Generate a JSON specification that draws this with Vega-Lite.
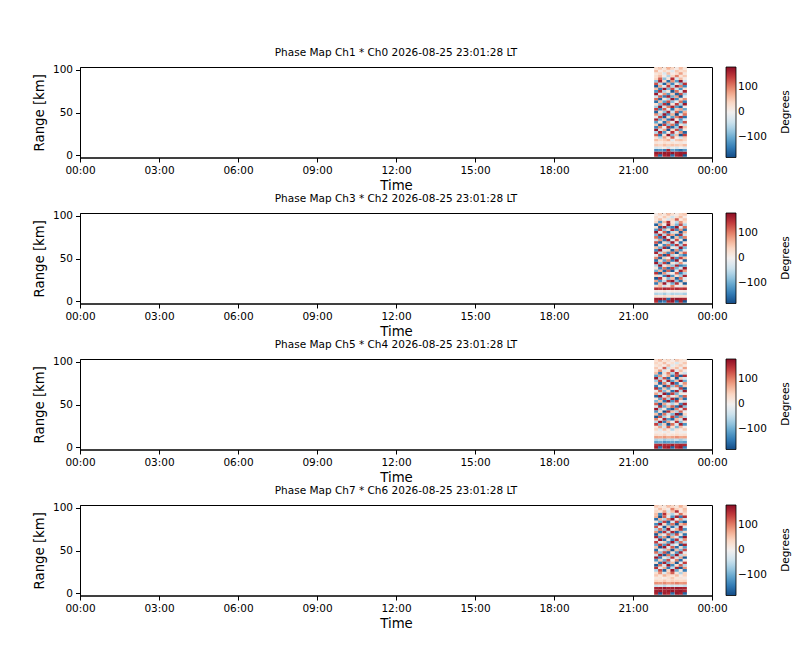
{
  "$schema": "https://vega.github.io/schema/vega-lite/v6.json",
  "padding": {"left": 31, "top": 47, "right": 0, "bottom": 0},
  "background": "white",
  "datasets": {
    "p1": [
      {"t":1313,"r":0,"v":150},{"t":1322,"r":0,"v":-160},{"t":1332,"r":0,"v":160},{"t":1341,"r":0,"v":170},{"t":1350,"r":0,"v":-150},{"t":1360,"r":0,"v":160},{"t":1369,"r":0,"v":170},{"t":1378,"r":0,"v":-170},
      {"t":1313,"r":3,"v":170},{"t":1322,"r":3,"v":165},{"t":1332,"r":3,"v":172},{"t":1341,"r":3,"v":168},{"t":1350,"r":3,"v":175},{"t":1360,"r":3,"v":160},{"t":1369,"r":3,"v":170},{"t":1378,"r":3,"v":168},
      {"t":1313,"r":6,"v":-130},{"t":1322,"r":6,"v":-120},{"t":1332,"r":6,"v":-140},{"t":1341,"r":6,"v":160},{"t":1350,"r":6,"v":-110},{"t":1360,"r":6,"v":-130},{"t":1369,"r":6,"v":-150},{"t":1378,"r":6,"v":-120},
      {"t":1313,"r":9,"v":-30},{"t":1322,"r":9,"v":-20},{"t":1332,"r":9,"v":10},{"t":1341,"r":9,"v":-40},{"t":1350,"r":9,"v":-10},{"t":1360,"r":9,"v":-30},{"t":1369,"r":9,"v":0},{"t":1378,"r":9,"v":-20},
      {"t":1313,"r":12,"v":50},{"t":1322,"r":12,"v":40},{"t":1332,"r":12,"v":60},{"t":1341,"r":12,"v":45},{"t":1350,"r":12,"v":55},{"t":1360,"r":12,"v":50},{"t":1369,"r":12,"v":40},{"t":1378,"r":12,"v":60},
      {"t":1313,"r":15,"v":20},{"t":1322,"r":15,"v":10},{"t":1332,"r":15,"v":30},{"t":1341,"r":15,"v":15},{"t":1350,"r":15,"v":25},{"t":1360,"r":15,"v":10},{"t":1369,"r":15,"v":20},{"t":1378,"r":15,"v":5},
      {"t":1313,"r":18,"v":60},{"t":1322,"r":18,"v":40},{"t":1332,"r":18,"v":50},{"t":1341,"r":18,"v":70},{"t":1350,"r":18,"v":-20},{"t":1360,"r":18,"v":50},{"t":1369,"r":18,"v":60},{"t":1378,"r":18,"v":40},
      {"t":1313,"r":21,"v":30},{"t":1322,"r":21,"v":-60},{"t":1332,"r":21,"v":80},{"t":1341,"r":21,"v":20},{"t":1350,"r":21,"v":120},{"t":1360,"r":21,"v":10},{"t":1369,"r":21,"v":-40},{"t":1378,"r":21,"v":50},
      {"t":1313,"r":24,"v":120},{"t":1322,"r":24,"v":-150},{"t":1332,"r":24,"v":30},{"t":1341,"r":24,"v":170},{"t":1350,"r":24,"v":-90},{"t":1360,"r":24,"v":60},{"t":1369,"r":24,"v":-170},{"t":1378,"r":24,"v":140},
      {"t":1313,"r":27,"v":-60},{"t":1322,"r":27,"v":160},{"t":1332,"r":27,"v":-120},{"t":1341,"r":27,"v":10},{"t":1350,"r":27,"v":150},{"t":1360,"r":27,"v":-30},{"t":1369,"r":27,"v":90},{"t":1378,"r":27,"v":-160},
      {"t":1313,"r":30,"v":170},{"t":1322,"r":30,"v":-40},{"t":1332,"r":30,"v":80},{"t":1341,"r":30,"v":-170},{"t":1350,"r":30,"v":40},{"t":1360,"r":30,"v":130},{"t":1369,"r":30,"v":-110},{"t":1378,"r":30,"v":20},
      {"t":1313,"r":33,"v":-130},{"t":1322,"r":33,"v":100},{"t":1332,"r":33,"v":-10},{"t":1341,"r":33,"v":150},{"t":1350,"r":33,"v":-160},{"t":1360,"r":33,"v":-70},{"t":1369,"r":33,"v":170},{"t":1378,"r":33,"v":60},
      {"t":1313,"r":36,"v":50},{"t":1322,"r":36,"v":-170},{"t":1332,"r":36,"v":140},{"t":1341,"r":36,"v":-80},{"t":1350,"r":36,"v":110},{"t":1360,"r":36,"v":-140},{"t":1369,"r":36,"v":30},{"t":1378,"r":36,"v":-50},
      {"t":1313,"r":39,"v":-110},{"t":1322,"r":39,"v":20},{"t":1332,"r":39,"v":-150},{"t":1341,"r":39,"v":90},{"t":1350,"r":39,"v":-20},{"t":1360,"r":39,"v":170},{"t":1369,"r":39,"v":-90},{"t":1378,"r":39,"v":130},
      {"t":1313,"r":42,"v":160},{"t":1322,"r":42,"v":-100},{"t":1332,"r":42,"v":60},{"t":1341,"r":42,"v":-140},{"t":1350,"r":42,"v":180},{"t":1360,"r":42,"v":10},{"t":1369,"r":42,"v":-120},{"t":1378,"r":42,"v":-30},
      {"t":1313,"r":45,"v":-20},{"t":1322,"r":45,"v":140},{"t":1332,"r":45,"v":-170},{"t":1341,"r":45,"v":40},{"t":1350,"r":45,"v":-110},{"t":1360,"r":45,"v":100},{"t":1369,"r":45,"v":150},{"t":1378,"r":45,"v":-150},
      {"t":1313,"r":48,"v":90},{"t":1322,"r":48,"v":-60},{"t":1332,"r":48,"v":170},{"t":1341,"r":48,"v":-120},{"t":1350,"r":48,"v":70},{"t":1360,"r":48,"v":-180},{"t":1369,"r":48,"v":-20},{"t":1378,"r":48,"v":110},
      {"t":1313,"r":51,"v":-160},{"t":1322,"r":51,"v":30},{"t":1332,"r":51,"v":-80},{"t":1341,"r":51,"v":160},{"t":1350,"r":51,"v":-40},{"t":1360,"r":51,"v":120},{"t":1369,"r":51,"v":-130},{"t":1378,"r":51,"v":70},
      {"t":1313,"r":54,"v":140},{"t":1322,"r":54,"v":-130},{"t":1332,"r":54,"v":120},{"t":1341,"r":54,"v":-20},{"t":1350,"r":54,"v":-150},{"t":1360,"r":54,"v":50},{"t":1369,"r":54,"v":80},{"t":1378,"r":54,"v":-100},
      {"t":1313,"r":57,"v":-70},{"t":1322,"r":57,"v":170},{"t":1332,"r":57,"v":-40},{"t":1341,"r":57,"v":100},{"t":1350,"r":57,"v":160},{"t":1360,"r":57,"v":-110},{"t":1369,"r":57,"v":-160},{"t":1378,"r":57,"v":10},
      {"t":1313,"r":60,"v":30},{"t":1322,"r":60,"v":-90},{"t":1332,"r":60,"v":150},{"t":1341,"r":60,"v":-170},{"t":1350,"r":60,"v":20},{"t":1360,"r":60,"v":140},{"t":1369,"r":60,"v":-60},{"t":1378,"r":60,"v":170},
      {"t":1313,"r":63,"v":-150},{"t":1322,"r":63,"v":60},{"t":1332,"r":63,"v":-110},{"t":1341,"r":63,"v":130},{"t":1350,"r":63,"v":-80},{"t":1360,"r":63,"v":-10},{"t":1369,"r":63,"v":110},{"t":1378,"r":63,"v":-140},
      {"t":1313,"r":66,"v":110},{"t":1322,"r":66,"v":-160},{"t":1332,"r":66,"v":20},{"t":1341,"r":66,"v":-60},{"t":1350,"r":66,"v":170},{"t":1360,"r":66,"v":-130},{"t":1369,"r":66,"v":40},{"t":1378,"r":66,"v":90},
      {"t":1313,"r":69,"v":-40},{"t":1322,"r":69,"v":120},{"t":1332,"r":69,"v":-140},{"t":1341,"r":69,"v":160},{"t":1350,"r":69,"v":-100},{"t":1360,"r":69,"v":80},{"t":1369,"r":69,"v":-170},{"t":1378,"r":69,"v":-20},
      {"t":1313,"r":72,"v":170},{"t":1322,"r":72,"v":-20},{"t":1332,"r":72,"v":90},{"t":1341,"r":72,"v":-110},{"t":1350,"r":72,"v":50},{"t":1360,"r":72,"v":-160},{"t":1369,"r":72,"v":130},{"t":1378,"r":72,"v":-70},
      {"t":1313,"r":75,"v":-120},{"t":1322,"r":75,"v":150},{"t":1332,"r":75,"v":-60},{"t":1341,"r":75,"v":20},{"t":1350,"r":75,"v":-170},{"t":1360,"r":75,"v":110},{"t":1369,"r":75,"v":-30},{"t":1378,"r":75,"v":160},
      {"t":1313,"r":78,"v":60},{"t":1322,"r":78,"v":-140},{"t":1332,"r":78,"v":170},{"t":1341,"r":78,"v":-90},{"t":1350,"r":78,"v":130},{"t":1360,"r":78,"v":-40},{"t":1369,"r":78,"v":-120},{"t":1378,"r":78,"v":30},
      {"t":1313,"r":81,"v":-170},{"t":1322,"r":81,"v":80},{"t":1332,"r":81,"v":-20},{"t":1341,"r":81,"v":140},{"t":1350,"r":81,"v":-60},{"t":1360,"r":81,"v":160},{"t":1369,"r":81,"v":100},{"t":1378,"r":81,"v":-130},
      {"t":1313,"r":84,"v":130},{"t":1322,"r":84,"v":-50},{"t":1332,"r":84,"v":-160},{"t":1341,"r":84,"v":70},{"t":1350,"r":84,"v":-130},{"t":1360,"r":84,"v":20},{"t":1369,"r":84,"v":-80},{"t":1378,"r":84,"v":150},
      {"t":1313,"r":87,"v":-80},{"t":1322,"r":87,"v":160},{"t":1332,"r":87,"v":40},{"t":1341,"r":87,"v":-150},{"t":1350,"r":87,"v":90},{"t":1360,"r":87,"v":-110},{"t":1369,"r":87,"v":170},{"t":1378,"r":87,"v":-40},
      {"t":1313,"r":90,"v":40},{"t":1322,"r":90,"v":120},{"t":1332,"r":90,"v":-80},{"t":1341,"r":90,"v":20},{"t":1350,"r":90,"v":150},{"t":1360,"r":90,"v":-30},{"t":1369,"r":90,"v":60},{"t":1378,"r":90,"v":10},
      {"t":1313,"r":93,"v":30},{"t":1322,"r":93,"v":60},{"t":1332,"r":93,"v":10},{"t":1341,"r":93,"v":-60},{"t":1350,"r":93,"v":40},{"t":1360,"r":93,"v":100},{"t":1369,"r":93,"v":20},{"t":1378,"r":93,"v":50},
      {"t":1313,"r":96,"v":20},{"t":1322,"r":96,"v":40},{"t":1332,"r":96,"v":-30},{"t":1341,"r":96,"v":60},{"t":1350,"r":96,"v":10},{"t":1360,"r":96,"v":30},{"t":1369,"r":96,"v":80},{"t":1378,"r":96,"v":15},
      {"t":1313,"r":99,"v":60},{"t":1322,"r":99,"v":10},{"t":1332,"r":99,"v":40},{"t":1341,"r":99,"v":20},{"t":1350,"r":99,"v":-20},{"t":1360,"r":99,"v":50},{"t":1369,"r":99,"v":30},{"t":1378,"r":99,"v":40},
      {"t":1313,"r":102,"v":30},{"t":1322,"r":102,"v":50},{"t":1332,"r":102,"v":20},{"t":1341,"r":102,"v":70},{"t":1350,"r":102,"v":40},{"t":1360,"r":102,"v":10},{"t":1369,"r":102,"v":60},{"t":1378,"r":102,"v":20}
    ],
    "p2": [
      {"t":1313,"r":0,"v":150},{"t":1322,"r":0,"v":-160},{"t":1332,"r":0,"v":-140},{"t":1341,"r":0,"v":160},{"t":1350,"r":0,"v":170},{"t":1360,"r":0,"v":-150},{"t":1369,"r":0,"v":160},{"t":1378,"r":0,"v":-170},
      {"t":1313,"r":3,"v":165},{"t":1322,"r":3,"v":170},{"t":1332,"r":3,"v":160},{"t":1341,"r":3,"v":-150},{"t":1350,"r":3,"v":168},{"t":1360,"r":3,"v":172},{"t":1369,"r":3,"v":165},{"t":1378,"r":3,"v":160},
      {"t":1313,"r":6,"v":30},{"t":1322,"r":6,"v":20},{"t":1332,"r":6,"v":40},{"t":1341,"r":6,"v":25},{"t":1350,"r":6,"v":35},{"t":1360,"r":6,"v":20},{"t":1369,"r":6,"v":30},{"t":1378,"r":6,"v":25},
      {"t":1313,"r":9,"v":-60},{"t":1322,"r":9,"v":-50},{"t":1332,"r":9,"v":-70},{"t":1341,"r":9,"v":-40},{"t":1350,"r":9,"v":-60},{"t":1360,"r":9,"v":-55},{"t":1369,"r":9,"v":-50},{"t":1378,"r":9,"v":-65},
      {"t":1313,"r":12,"v":10},{"t":1322,"r":12,"v":5},{"t":1332,"r":12,"v":20},{"t":1341,"r":12,"v":0},{"t":1350,"r":12,"v":15},{"t":1360,"r":12,"v":10},{"t":1369,"r":12,"v":5},{"t":1378,"r":12,"v":10},
      {"t":1313,"r":15,"v":150},{"t":1322,"r":15,"v":140},{"t":1332,"r":15,"v":160},{"t":1341,"r":15,"v":150},{"t":1350,"r":15,"v":145},{"t":1360,"r":15,"v":155},{"t":1369,"r":15,"v":140},{"t":1378,"r":15,"v":150},
      {"t":1313,"r":18,"v":30},{"t":1322,"r":18,"v":60},{"t":1332,"r":18,"v":-40},{"t":1341,"r":18,"v":20},{"t":1350,"r":18,"v":100},{"t":1360,"r":18,"v":10},{"t":1369,"r":18,"v":-20},{"t":1378,"r":18,"v":40},
      {"t":1313,"r":21,"v":-140},{"t":1322,"r":21,"v":60},{"t":1332,"r":21,"v":170},{"t":1341,"r":21,"v":-30},{"t":1350,"r":21,"v":-100},{"t":1360,"r":21,"v":150},{"t":1369,"r":21,"v":20},{"t":1378,"r":21,"v":-170},
      {"t":1313,"r":24,"v":80},{"t":1322,"r":24,"v":-120},{"t":1332,"r":24,"v":-50},{"t":1341,"r":24,"v":140},{"t":1350,"r":24,"v":170},{"t":1360,"r":24,"v":-80},{"t":1369,"r":24,"v":-150},{"t":1378,"r":24,"v":40},
      {"t":1313,"r":27,"v":-170},{"t":1322,"r":27,"v":150},{"t":1332,"r":27,"v":20},{"t":1341,"r":27,"v":-90},{"t":1350,"r":27,"v":60},{"t":1360,"r":27,"v":-160},{"t":1369,"r":27,"v":110},{"t":1378,"r":27,"v":-20},
      {"t":1313,"r":30,"v":40},{"t":1322,"r":30,"v":-30},{"t":1332,"r":30,"v":-140},{"t":1341,"r":30,"v":170},{"t":1350,"r":30,"v":-120},{"t":1360,"r":30,"v":30},{"t":1369,"r":30,"v":-70},{"t":1378,"r":30,"v":160},
      {"t":1313,"r":33,"v":150},{"t":1322,"r":33,"v":-170},{"t":1332,"r":33,"v":90},{"t":1341,"r":33,"v":-40},{"t":1350,"r":33,"v":10},{"t":1360,"r":33,"v":120},{"t":1369,"r":33,"v":-130},{"t":1378,"r":33,"v":-60},
      {"t":1313,"r":36,"v":-100},{"t":1322,"r":36,"v":70},{"t":1332,"r":36,"v":-160},{"t":1341,"r":36,"v":120},{"t":1350,"r":36,"v":-170},{"t":1360,"r":36,"v":-20},{"t":1369,"r":36,"v":160},{"t":1378,"r":36,"v":80},
      {"t":1313,"r":39,"v":20},{"t":1322,"r":39,"v":-130},{"t":1332,"r":39,"v":110},{"t":1341,"r":39,"v":-150},{"t":1350,"r":39,"v":140},{"t":1360,"r":39,"v":-90},{"t":1369,"r":39,"v":-30},{"t":1378,"r":39,"v":170},
      {"t":1313,"r":42,"v":-60},{"t":1322,"r":42,"v":170},{"t":1332,"r":42,"v":-20},{"t":1341,"r":42,"v":60},{"t":1350,"r":42,"v":-80},{"t":1360,"r":42,"v":160},{"t":1369,"r":42,"v":-140},{"t":1378,"r":42,"v":-110},
      {"t":1313,"r":45,"v":170},{"t":1322,"r":45,"v":-80},{"t":1332,"r":45,"v":140},{"t":1341,"r":45,"v":-170},{"t":1350,"r":45,"v":30},{"t":1360,"r":45,"v":-50},{"t":1369,"r":45,"v":90},{"t":1378,"r":45,"v":10},
      {"t":1313,"r":48,"v":-150},{"t":1322,"r":48,"v":40},{"t":1332,"r":48,"v":-110},{"t":1341,"r":48,"v":100},{"t":1350,"r":48,"v":-140},{"t":1360,"r":48,"v":170},{"t":1369,"r":48,"v":-10},{"t":1378,"r":48,"v":-160},
      {"t":1313,"r":51,"v":100},{"t":1322,"r":51,"v":-160},{"t":1332,"r":51,"v":50},{"t":1341,"r":51,"v":-10},{"t":1350,"r":51,"v":160},{"t":1360,"r":51,"v":-120},{"t":1369,"r":51,"v":140},{"t":1378,"r":51,"v":60},
      {"t":1313,"r":54,"v":-20},{"t":1322,"r":54,"v":130},{"t":1332,"r":54,"v":-170},{"t":1341,"r":54,"v":150},{"t":1350,"r":54,"v":-60},{"t":1360,"r":54,"v":20},{"t":1369,"r":54,"v":-90},{"t":1378,"r":54,"v":-140},
      {"t":1313,"r":57,"v":160},{"t":1322,"r":57,"v":-50},{"t":1332,"r":57,"v":80},{"t":1341,"r":57,"v":-130},{"t":1350,"r":57,"v":110},{"t":1360,"r":57,"v":-170},{"t":1369,"r":57,"v":50},{"t":1378,"r":57,"v":120},
      {"t":1313,"r":60,"v":-130},{"t":1322,"r":60,"v":170},{"t":1332,"r":60,"v":-30},{"t":1341,"r":60,"v":40},{"t":1350,"r":60,"v":-160},{"t":1360,"r":60,"v":90},{"t":1369,"r":60,"v":-120},{"t":1378,"r":60,"v":-20},
      {"t":1313,"r":63,"v":60},{"t":1322,"r":63,"v":-100},{"t":1332,"r":63,"v":160},{"t":1341,"r":63,"v":-170},{"t":1350,"r":63,"v":20},{"t":1360,"r":63,"v":-40},{"t":1369,"r":63,"v":170},{"t":1378,"r":63,"v":-90},
      {"t":1313,"r":66,"v":-170},{"t":1322,"r":66,"v":20},{"t":1332,"r":66,"v":-130},{"t":1341,"r":66,"v":110},{"t":1350,"r":66,"v":-110},{"t":1360,"r":66,"v":150},{"t":1369,"r":66,"v":-60},{"t":1378,"r":66,"v":140},
      {"t":1313,"r":69,"v":130},{"t":1322,"r":69,"v":-160},{"t":1332,"r":69,"v":40},{"t":1341,"r":69,"v":-70},{"t":1350,"r":69,"v":170},{"t":1360,"r":69,"v":-10},{"t":1369,"r":69,"v":-150},{"t":1378,"r":69,"v":30},
      {"t":1313,"r":72,"v":-40},{"t":1322,"r":72,"v":90},{"t":1332,"r":72,"v":-150},{"t":1341,"r":72,"v":160},{"t":1350,"r":72,"v":-30},{"t":1360,"r":72,"v":130},{"t":1369,"r":72,"v":20},{"t":1378,"r":72,"v":-170},
      {"t":1313,"r":75,"v":110},{"t":1322,"r":75,"v":-140},{"t":1332,"r":75,"v":170},{"t":1341,"r":75,"v":-20},{"t":1350,"r":75,"v":-170},{"t":1360,"r":75,"v":60},{"t":1369,"r":75,"v":-110},{"t":1378,"r":75,"v":100},
      {"t":1313,"r":78,"v":-90},{"t":1322,"r":78,"v":160},{"t":1332,"r":78,"v":-60},{"t":1341,"r":78,"v":130},{"t":1350,"r":78,"v":80},{"t":1360,"r":78,"v":-150},{"t":1369,"r":78,"v":150},{"t":1378,"r":78,"v":-40},
      {"t":1313,"r":81,"v":170},{"t":1322,"r":81,"v":-20},{"t":1332,"r":81,"v":120},{"t":1341,"r":81,"v":-160},{"t":1350,"r":81,"v":-50},{"t":1360,"r":81,"v":40},{"t":1369,"r":81,"v":-170},{"t":1378,"r":81,"v":70},
      {"t":1313,"r":84,"v":-120},{"t":1322,"r":84,"v":140},{"t":1332,"r":84,"v":-80},{"t":1341,"r":84,"v":30},{"t":1350,"r":84,"v":150},{"t":1360,"r":84,"v":-130},{"t":1369,"r":84,"v":90},{"t":1378,"r":84,"v":-150},
      {"t":1313,"r":87,"v":30},{"t":1322,"r":87,"v":-170},{"t":1332,"r":87,"v":160},{"t":1341,"r":87,"v":-100},{"t":1350,"r":87,"v":-140},{"t":1360,"r":87,"v":170},{"t":1369,"r":87,"v":-30},{"t":1378,"r":87,"v":110},
      {"t":1313,"r":90,"v":-160},{"t":1322,"r":90,"v":80},{"t":1332,"r":90,"v":-10},{"t":1341,"r":90,"v":170},{"t":1350,"r":90,"v":40},{"t":1360,"r":90,"v":-90},{"t":1369,"r":90,"v":130},{"t":1378,"r":90,"v":-60},
      {"t":1313,"r":93,"v":40},{"t":1322,"r":93,"v":-120},{"t":1332,"r":93,"v":60},{"t":1341,"r":93,"v":150},{"t":1350,"r":93,"v":20},{"t":1360,"r":93,"v":-50},{"t":1369,"r":93,"v":90},{"t":1378,"r":93,"v":30},
      {"t":1313,"r":96,"v":20},{"t":1322,"r":96,"v":60},{"t":1332,"r":96,"v":10},{"t":1341,"r":96,"v":-30},{"t":1350,"r":96,"v":40},{"t":1360,"r":96,"v":120},{"t":1369,"r":96,"v":15},{"t":1378,"r":96,"v":50},
      {"t":1313,"r":99,"v":30},{"t":1322,"r":99,"v":10},{"t":1332,"r":99,"v":50},{"t":1341,"r":99,"v":20},{"t":1350,"r":99,"v":-40},{"t":1360,"r":99,"v":30},{"t":1369,"r":99,"v":60},{"t":1378,"r":99,"v":10},
      {"t":1313,"r":102,"v":10},{"t":1322,"r":102,"v":40},{"t":1332,"r":102,"v":20},{"t":1341,"r":102,"v":60},{"t":1350,"r":102,"v":30},{"t":1360,"r":102,"v":10},{"t":1369,"r":102,"v":40},{"t":1378,"r":102,"v":50}
    ],
    "p3": [
      {"t":1313,"r":0,"v":165},{"t":1322,"r":0,"v":-150},{"t":1332,"r":0,"v":160},{"t":1341,"r":0,"v":170},{"t":1350,"r":0,"v":-160},{"t":1360,"r":0,"v":155},{"t":1369,"r":0,"v":170},{"t":1378,"r":0,"v":-140},
      {"t":1313,"r":3,"v":150},{"t":1322,"r":3,"v":160},{"t":1332,"r":3,"v":155},{"t":1341,"r":3,"v":150},{"t":1350,"r":3,"v":165},{"t":1360,"r":3,"v":150},{"t":1369,"r":3,"v":160},{"t":1378,"r":3,"v":155},
      {"t":1313,"r":6,"v":-110},{"t":1322,"r":6,"v":-100},{"t":1332,"r":6,"v":-120},{"t":1341,"r":6,"v":-110},{"t":1350,"r":6,"v":-105},{"t":1360,"r":6,"v":-115},{"t":1369,"r":6,"v":-100},{"t":1378,"r":6,"v":-110},
      {"t":1313,"r":9,"v":-60},{"t":1322,"r":9,"v":-50},{"t":1332,"r":9,"v":-70},{"t":1341,"r":9,"v":-55},{"t":1350,"r":9,"v":-60},{"t":1360,"r":9,"v":-45},{"t":1369,"r":9,"v":-65},{"t":1378,"r":9,"v":-50},
      {"t":1313,"r":12,"v":80},{"t":1322,"r":12,"v":75},{"t":1332,"r":12,"v":85},{"t":1341,"r":12,"v":70},{"t":1350,"r":12,"v":80},{"t":1360,"r":12,"v":90},{"t":1369,"r":12,"v":75},{"t":1378,"r":12,"v":80},
      {"t":1313,"r":15,"v":30},{"t":1322,"r":15,"v":20},{"t":1332,"r":15,"v":40},{"t":1341,"r":15,"v":10},{"t":1350,"r":15,"v":25},{"t":1360,"r":15,"v":35},{"t":1369,"r":15,"v":20},{"t":1378,"r":15,"v":30},
      {"t":1313,"r":18,"v":5},{"t":1322,"r":18,"v":10},{"t":1332,"r":18,"v":-10},{"t":1341,"r":18,"v":20},{"t":1350,"r":18,"v":0},{"t":1360,"r":18,"v":15},{"t":1369,"r":18,"v":5},{"t":1378,"r":18,"v":-5},
      {"t":1313,"r":21,"v":40},{"t":1322,"r":21,"v":-30},{"t":1332,"r":21,"v":60},{"t":1341,"r":21,"v":20},{"t":1350,"r":21,"v":-60},{"t":1360,"r":21,"v":30},{"t":1369,"r":21,"v":10},{"t":1378,"r":21,"v":50},
      {"t":1313,"r":24,"v":20},{"t":1322,"r":24,"v":80},{"t":1332,"r":24,"v":-40},{"t":1341,"r":24,"v":120},{"t":1350,"r":24,"v":30},{"t":1360,"r":24,"v":-90},{"t":1369,"r":24,"v":60},{"t":1378,"r":24,"v":10},
      {"t":1313,"r":27,"v":140},{"t":1322,"r":27,"v":-90},{"t":1332,"r":27,"v":50},{"t":1341,"r":27,"v":-170},{"t":1350,"r":27,"v":110},{"t":1360,"r":27,"v":-30},{"t":1369,"r":27,"v":160},{"t":1378,"r":27,"v":-120},
      {"t":1313,"r":30,"v":-50},{"t":1322,"r":30,"v":170},{"t":1332,"r":30,"v":-140},{"t":1341,"r":30,"v":80},{"t":1350,"r":30,"v":-10},{"t":1360,"r":30,"v":150},{"t":1369,"r":30,"v":-80},{"t":1378,"r":30,"v":30},
      {"t":1313,"r":33,"v":100},{"t":1322,"r":33,"v":-20},{"t":1332,"r":33,"v":160},{"t":1341,"r":33,"v":-110},{"t":1350,"r":33,"v":-160},{"t":1360,"r":33,"v":60},{"t":1369,"r":33,"v":-40},{"t":1378,"r":33,"v":170},
      {"t":1313,"r":36,"v":-170},{"t":1322,"r":36,"v":130},{"t":1332,"r":36,"v":-70},{"t":1341,"r":36,"v":20},{"t":1350,"r":36,"v":140},{"t":1360,"r":36,"v":-120},{"t":1369,"r":36,"v":90},{"t":1378,"r":36,"v":-60},
      {"t":1313,"r":39,"v":60},{"t":1322,"r":39,"v":-150},{"t":1332,"r":39,"v":110},{"t":1341,"r":39,"v":-40},{"t":1350,"r":39,"v":-90},{"t":1360,"r":39,"v":170},{"t":1369,"r":39,"v":-170},{"t":1378,"r":39,"v":40},
      {"t":1313,"r":42,"v":-120},{"t":1322,"r":42,"v":40},{"t":1332,"r":42,"v":-180},{"t":1341,"r":42,"v":150},{"t":1350,"r":42,"v":60},{"t":1360,"r":42,"v":-60},{"t":1369,"r":42,"v":120},{"t":1378,"r":42,"v":-10},
      {"t":1313,"r":45,"v":170},{"t":1322,"r":45,"v":-70},{"t":1332,"r":45,"v":20},{"t":1341,"r":45,"v":-130},{"t":1350,"r":45,"v":-170},{"t":1360,"r":45,"v":100},{"t":1369,"r":45,"v":-30},{"t":1378,"r":45,"v":140},
      {"t":1313,"r":48,"v":-30},{"t":1322,"r":48,"v":150},{"t":1332,"r":48,"v":-100},{"t":1341,"r":48,"v":60},{"t":1350,"r":48,"v":120},{"t":1360,"r":48,"v":-150},{"t":1369,"r":48,"v":170},{"t":1378,"r":48,"v":-80},
      {"t":1313,"r":51,"v":120},{"t":1322,"r":51,"v":-170},{"t":1332,"r":51,"v":80},{"t":1341,"r":51,"v":-20},{"t":1350,"r":51,"v":-60},{"t":1360,"r":51,"v":30},{"t":1369,"r":51,"v":-130},{"t":1378,"r":51,"v":160},
      {"t":1313,"r":54,"v":-90},{"t":1322,"r":54,"v":60},{"t":1332,"r":54,"v":-150},{"t":1341,"r":54,"v":170},{"t":1350,"r":54,"v":-120},{"t":1360,"r":54,"v":140},{"t":1369,"r":54,"v":10},{"t":1378,"r":54,"v":-40},
      {"t":1313,"r":57,"v":20},{"t":1322,"r":57,"v":-110},{"t":1332,"r":57,"v":130},{"t":1341,"r":57,"v":-70},{"t":1350,"r":57,"v":160},{"t":1360,"r":57,"v":-170},{"t":1369,"r":57,"v":80},{"t":1378,"r":57,"v":-150},
      {"t":1313,"r":60,"v":-160},{"t":1322,"r":60,"v":170},{"t":1332,"r":60,"v":-30},{"t":1341,"r":60,"v":100},{"t":1350,"r":60,"v":-20},{"t":1360,"r":60,"v":50},{"t":1369,"r":60,"v":-110},{"t":1378,"r":60,"v":120},
      {"t":1313,"r":63,"v":80},{"t":1322,"r":63,"v":-40},{"t":1332,"r":63,"v":170},{"t":1341,"r":63,"v":-160},{"t":1350,"r":63,"v":140},{"t":1360,"r":63,"v":-90},{"t":1369,"r":63,"v":30},{"t":1378,"r":63,"v":-10},
      {"t":1313,"r":66,"v":-10},{"t":1322,"r":66,"v":120},{"t":1332,"r":66,"v":-90},{"t":1341,"r":66,"v":40},{"t":1350,"r":66,"v":-150},{"t":1360,"r":66,"v":160},{"t":1369,"r":66,"v":-60},{"t":1378,"r":66,"v":170},
      {"t":1313,"r":69,"v":150},{"t":1322,"r":69,"v":-130},{"t":1332,"r":69,"v":60},{"t":1341,"r":69,"v":-110},{"t":1350,"r":69,"v":30},{"t":1360,"r":69,"v":-20},{"t":1369,"r":69,"v":140},{"t":1378,"r":69,"v":-170},
      {"t":1313,"r":72,"v":-140},{"t":1322,"r":72,"v":20},{"t":1332,"r":72,"v":-170},{"t":1341,"r":72,"v":130},{"t":1350,"r":72,"v":-80},{"t":1360,"r":72,"v":110},{"t":1369,"r":72,"v":-120},{"t":1378,"r":72,"v":50},
      {"t":1313,"r":75,"v":40},{"t":1322,"r":75,"v":-160},{"t":1332,"r":75,"v":100},{"t":1341,"r":75,"v":-30},{"t":1350,"r":75,"v":170},{"t":1360,"r":75,"v":-140},{"t":1369,"r":75,"v":-10},{"t":1378,"r":75,"v":90},
      {"t":1313,"r":78,"v":-70},{"t":1322,"r":78,"v":140},{"t":1332,"r":78,"v":-40},{"t":1341,"r":78,"v":160},{"t":1350,"r":78,"v":-110},{"t":1360,"r":78,"v":60},{"t":1369,"r":78,"v":170},{"t":1378,"r":78,"v":-100},
      {"t":1313,"r":81,"v":170},{"t":1322,"r":81,"v":-60},{"t":1332,"r":81,"v":130},{"t":1341,"r":81,"v":-150},{"t":1350,"r":81,"v":20},{"t":1360,"r":81,"v":-170},{"t":1369,"r":81,"v":50},{"t":1378,"r":81,"v":-30},
      {"t":1313,"r":84,"v":-110},{"t":1322,"r":84,"v":90},{"t":1332,"r":84,"v":-20},{"t":1341,"r":84,"v":70},{"t":1350,"r":84,"v":-140},{"t":1360,"r":84,"v":130},{"t":1369,"r":84,"v":-160},{"t":1378,"r":84,"v":150},
      {"t":1313,"r":87,"v":60},{"t":1322,"r":87,"v":-140},{"t":1332,"r":87,"v":30},{"t":1341,"r":87,"v":100},{"t":1350,"r":87,"v":-60},{"t":1360,"r":87,"v":150},{"t":1369,"r":87,"v":20},{"t":1378,"r":87,"v":-40},
      {"t":1313,"r":90,"v":30},{"t":1322,"r":90,"v":90},{"t":1332,"r":90,"v":-30},{"t":1341,"r":90,"v":20},{"t":1350,"r":90,"v":140},{"t":1360,"r":90,"v":-20},{"t":1369,"r":90,"v":60},{"t":1378,"r":90,"v":10},
      {"t":1313,"r":93,"v":50},{"t":1322,"r":93,"v":10},{"t":1332,"r":93,"v":120},{"t":1341,"r":93,"v":-40},{"t":1350,"r":93,"v":30},{"t":1360,"r":93,"v":60},{"t":1369,"r":93,"v":-10},{"t":1378,"r":93,"v":80},
      {"t":1313,"r":96,"v":20},{"t":1322,"r":96,"v":40},{"t":1332,"r":96,"v":10},{"t":1341,"r":96,"v":60},{"t":1350,"r":96,"v":-20},{"t":1360,"r":96,"v":30},{"t":1369,"r":96,"v":50},{"t":1378,"r":96,"v":15},
      {"t":1313,"r":99,"v":40},{"t":1322,"r":99,"v":20},{"t":1332,"r":99,"v":60},{"t":1341,"r":99,"v":10},{"t":1350,"r":99,"v":30},{"t":1360,"r":99,"v":-30},{"t":1369,"r":99,"v":20},{"t":1378,"r":99,"v":50},
      {"t":1313,"r":102,"v":30},{"t":1322,"r":102,"v":60},{"t":1332,"r":102,"v":20},{"t":1341,"r":102,"v":40},{"t":1350,"r":102,"v":10},{"t":1360,"r":102,"v":50},{"t":1369,"r":102,"v":30},{"t":1378,"r":102,"v":20}
    ],
    "p4": [
      {"t":1313,"r":0,"v":160},{"t":1322,"r":0,"v":-170},{"t":1332,"r":0,"v":165},{"t":1341,"r":0,"v":155},{"t":1350,"r":0,"v":-150},{"t":1360,"r":0,"v":170},{"t":1369,"r":0,"v":160},{"t":1378,"r":0,"v":-160},
      {"t":1313,"r":3,"v":165},{"t":1322,"r":3,"v":170},{"t":1332,"r":3,"v":160},{"t":1341,"r":3,"v":168},{"t":1350,"r":3,"v":172},{"t":1360,"r":3,"v":165},{"t":1369,"r":3,"v":170},{"t":1378,"r":3,"v":160},
      {"t":1313,"r":6,"v":160},{"t":1322,"r":6,"v":165},{"t":1332,"r":6,"v":170},{"t":1341,"r":6,"v":160},{"t":1350,"r":6,"v":165},{"t":1360,"r":6,"v":170},{"t":1369,"r":6,"v":165},{"t":1378,"r":6,"v":160},
      {"t":1313,"r":9,"v":-40},{"t":1322,"r":9,"v":-30},{"t":1332,"r":9,"v":-50},{"t":1341,"r":9,"v":-20},{"t":1350,"r":9,"v":-40},{"t":1360,"r":9,"v":-35},{"t":1369,"r":9,"v":-30},{"t":1378,"r":9,"v":-45},
      {"t":1313,"r":12,"v":90},{"t":1322,"r":12,"v":85},{"t":1332,"r":12,"v":95},{"t":1341,"r":12,"v":80},{"t":1350,"r":12,"v":90},{"t":1360,"r":12,"v":100},{"t":1369,"r":12,"v":85},{"t":1378,"r":12,"v":90},
      {"t":1313,"r":15,"v":40},{"t":1322,"r":15,"v":35},{"t":1332,"r":15,"v":50},{"t":1341,"r":15,"v":30},{"t":1350,"r":15,"v":45},{"t":1360,"r":15,"v":40},{"t":1369,"r":15,"v":35},{"t":1378,"r":15,"v":40},
      {"t":1313,"r":18,"v":15},{"t":1322,"r":18,"v":20},{"t":1332,"r":18,"v":10},{"t":1341,"r":18,"v":25},{"t":1350,"r":18,"v":50},{"t":1360,"r":18,"v":15},{"t":1369,"r":18,"v":20},{"t":1378,"r":18,"v":10},
      {"t":1313,"r":21,"v":50},{"t":1322,"r":21,"v":20},{"t":1332,"r":21,"v":70},{"t":1341,"r":21,"v":40},{"t":1350,"r":21,"v":30},{"t":1360,"r":21,"v":60},{"t":1369,"r":21,"v":10},{"t":1378,"r":21,"v":40},
      {"t":1313,"r":24,"v":30},{"t":1322,"r":24,"v":90},{"t":1332,"r":24,"v":-30},{"t":1341,"r":24,"v":60},{"t":1350,"r":24,"v":120},{"t":1360,"r":24,"v":20},{"t":1369,"r":24,"v":-60},{"t":1378,"r":24,"v":40},
      {"t":1313,"r":27,"v":-60},{"t":1322,"r":27,"v":130},{"t":1332,"r":27,"v":-160},{"t":1341,"r":27,"v":40},{"t":1350,"r":27,"v":170},{"t":1360,"r":27,"v":-100},{"t":1369,"r":27,"v":20},{"t":1378,"r":27,"v":-140},
      {"t":1313,"r":30,"v":150},{"t":1322,"r":30,"v":-20},{"t":1332,"r":30,"v":70},{"t":1341,"r":30,"v":-140},{"t":1350,"r":30,"v":-50},{"t":1360,"r":30,"v":160},{"t":1369,"r":30,"v":-170},{"t":1378,"r":30,"v":90},
      {"t":1313,"r":33,"v":-170},{"t":1322,"r":33,"v":110},{"t":1332,"r":33,"v":-40},{"t":1341,"r":33,"v":170},{"t":1350,"r":33,"v":-130},{"t":1360,"r":33,"v":30},{"t":1369,"r":33,"v":120},{"t":1378,"r":33,"v":-60},
      {"t":1313,"r":36,"v":30},{"t":1322,"r":36,"v":-150},{"t":1332,"r":36,"v":160},{"t":1341,"r":36,"v":-90},{"t":1350,"r":36,"v":60},{"t":1360,"r":36,"v":-170},{"t":1369,"r":36,"v":-20},{"t":1378,"r":36,"v":140},
      {"t":1313,"r":39,"v":-120},{"t":1322,"r":39,"v":50},{"t":1332,"r":39,"v":-100},{"t":1341,"r":39,"v":130},{"t":1350,"r":39,"v":-10},{"t":1360,"r":39,"v":100},{"t":1369,"r":39,"v":-150},{"t":1378,"r":39,"v":10},
      {"t":1313,"r":42,"v":170},{"t":1322,"r":42,"v":-140},{"t":1332,"r":42,"v":20},{"t":1341,"r":42,"v":-60},{"t":1350,"r":42,"v":150},{"t":1360,"r":42,"v":-40},{"t":1369,"r":42,"v":80},{"t":1378,"r":42,"v":-170},
      {"t":1313,"r":45,"v":-40},{"t":1322,"r":45,"v":160},{"t":1332,"r":45,"v":-170},{"t":1341,"r":45,"v":110},{"t":1350,"r":45,"v":-100},{"t":1360,"r":45,"v":170},{"t":1369,"r":45,"v":-60},{"t":1378,"r":45,"v":50},
      {"t":1313,"r":48,"v":110},{"t":1322,"r":48,"v":-80},{"t":1332,"r":48,"v":130},{"t":1341,"r":48,"v":-160},{"t":1350,"r":48,"v":30},{"t":1360,"r":48,"v":-120},{"t":1369,"r":48,"v":160},{"t":1378,"r":48,"v":-20},
      {"t":1313,"r":51,"v":-150},{"t":1322,"r":51,"v":20},{"t":1332,"r":51,"v":-60},{"t":1341,"r":51,"v":80},{"t":1350,"r":51,"v":-170},{"t":1360,"r":51,"v":60},{"t":1369,"r":51,"v":-90},{"t":1378,"r":51,"v":130},
      {"t":1313,"r":54,"v":60},{"t":1322,"r":54,"v":-170},{"t":1332,"r":54,"v":170},{"t":1341,"r":54,"v":-30},{"t":1350,"r":54,"v":120},{"t":1360,"r":54,"v":-150},{"t":1369,"r":54,"v":40},{"t":1378,"r":54,"v":-110},
      {"t":1313,"r":57,"v":-100},{"t":1322,"r":57,"v":140},{"t":1332,"r":57,"v":-120},{"t":1341,"r":57,"v":150},{"t":1350,"r":57,"v":-50},{"t":1360,"r":57,"v":10},{"t":1369,"r":57,"v":-170},{"t":1378,"r":57,"v":160},
      {"t":1313,"r":60,"v":140},{"t":1322,"r":60,"v":-30},{"t":1332,"r":60,"v":50},{"t":1341,"r":60,"v":-110},{"t":1350,"r":60,"v":170},{"t":1360,"r":60,"v":-80},{"t":1369,"r":60,"v":110},{"t":1378,"r":60,"v":-50},
      {"t":1313,"r":63,"v":-20},{"t":1322,"r":63,"v":170},{"t":1332,"r":63,"v":-150},{"t":1341,"r":63,"v":20},{"t":1350,"r":63,"v":-140},{"t":1360,"r":63,"v":150},{"t":1369,"r":63,"v":-40},{"t":1378,"r":63,"v":90},
      {"t":1313,"r":66,"v":160},{"t":1322,"r":66,"v":-110},{"t":1332,"r":66,"v":90},{"t":1341,"r":66,"v":-170},{"t":1350,"r":66,"v":70},{"t":1360,"r":66,"v":-20},{"t":1369,"r":66,"v":-130},{"t":1378,"r":66,"v":170},
      {"t":1313,"r":69,"v":-170},{"t":1322,"r":69,"v":60},{"t":1332,"r":69,"v":-30},{"t":1341,"r":69,"v":120},{"t":1350,"r":69,"v":-90},{"t":1360,"r":69,"v":130},{"t":1369,"r":69,"v":20},{"t":1378,"r":69,"v":-150},
      {"t":1313,"r":72,"v":90},{"t":1322,"r":72,"v":-150},{"t":1332,"r":72,"v":150},{"t":1341,"r":72,"v":-50},{"t":1350,"r":72,"v":160},{"t":1360,"r":72,"v":-160},{"t":1369,"r":72,"v":-80},{"t":1378,"r":72,"v":40},
      {"t":1313,"r":75,"v":-60},{"t":1322,"r":75,"v":110},{"t":1332,"r":75,"v":-90},{"t":1341,"r":75,"v":170},{"t":1350,"r":75,"v":-20},{"t":1360,"r":75,"v":70},{"t":1369,"r":75,"v":150},{"t":1378,"r":75,"v":-120},
      {"t":1313,"r":78,"v":130},{"t":1322,"r":78,"v":-10},{"t":1332,"r":78,"v":-170},{"t":1341,"r":78,"v":60},{"t":1350,"r":78,"v":-150},{"t":1360,"r":78,"v":-50},{"t":1369,"r":78,"v":170},{"t":1378,"r":78,"v":-30},
      {"t":1313,"r":81,"v":-130},{"t":1322,"r":81,"v":170},{"t":1332,"r":81,"v":40},{"t":1341,"r":81,"v":-120},{"t":1350,"r":81,"v":110},{"t":1360,"r":81,"v":-170},{"t":1369,"r":81,"v":60},{"t":1378,"r":81,"v":100},
      {"t":1313,"r":84,"v":20},{"t":1322,"r":84,"v":-100},{"t":1332,"r":84,"v":140},{"t":1341,"r":84,"v":-160},{"t":1350,"r":84,"v":-30},{"t":1360,"r":84,"v":140},{"t":1369,"r":84,"v":-110},{"t":1378,"r":84,"v":-170},
      {"t":1313,"r":87,"v":-150},{"t":1322,"r":87,"v":70},{"t":1332,"r":87,"v":-60},{"t":1341,"r":87,"v":100},{"t":1350,"r":87,"v":170},{"t":1360,"r":87,"v":-10},{"t":1369,"r":87,"v":90},{"t":1378,"r":87,"v":-40},
      {"t":1313,"r":90,"v":70},{"t":1322,"r":90,"v":-170},{"t":1332,"r":90,"v":120},{"t":1341,"r":90,"v":-20},{"t":1350,"r":90,"v":-120},{"t":1360,"r":90,"v":160},{"t":1369,"r":90,"v":-140},{"t":1378,"r":90,"v":150},
      {"t":1313,"r":93,"v":60},{"t":1322,"r":93,"v":-130},{"t":1332,"r":93,"v":150},{"t":1341,"r":93,"v":40},{"t":1350,"r":93,"v":-60},{"t":1360,"r":93,"v":20},{"t":1369,"r":93,"v":110},{"t":1378,"r":93,"v":30},
      {"t":1313,"r":96,"v":40},{"t":1322,"r":96,"v":20},{"t":1332,"r":96,"v":80},{"t":1341,"r":96,"v":-30},{"t":1350,"r":96,"v":60},{"t":1360,"r":96,"v":150},{"t":1369,"r":96,"v":10},{"t":1378,"r":96,"v":50},
      {"t":1313,"r":99,"v":20},{"t":1322,"r":99,"v":60},{"t":1332,"r":99,"v":30},{"t":1341,"r":99,"v":10},{"t":1350,"r":99,"v":100},{"t":1360,"r":99,"v":40},{"t":1369,"r":99,"v":20},{"t":1378,"r":99,"v":60},
      {"t":1313,"r":102,"v":50},{"t":1322,"r":102,"v":30},{"t":1332,"r":102,"v":20},{"t":1341,"r":102,"v":60},{"t":1350,"r":102,"v":40},{"t":1360,"r":102,"v":20},{"t":1369,"r":102,"v":70},{"t":1378,"r":102,"v":30}
    ]
  },
  "vconcat": [
    {
      "data": {"name": "p1"},
      "title": "Phase Map Ch1 * Ch0 2026-08-25 23:01:28 LT",
      "width": 632,
      "height": 90.5,
      "mark": {"type": "rect", "width": 4.2, "height": 2.7, "clip": true},
      "encoding": {
        "x": {"field": "t", "type": "quantitative", "title": "Time", "scale": {"domain": [0, 1440], "nice": false, "zero": false}, "axis": {"values": [0, 180, 360, 540, 720, 900, 1080, 1260, 1440]}},
        "y": {"field": "r", "type": "quantitative", "title": "Range [km]", "scale": {"domain": [-2.5, 103.5], "nice": false, "zero": false}, "axis": {"values": [0, 50, 100]}},
        "color": {"field": "v", "type": "quantitative", "title": "Degrees", "scale": {"scheme": "redblue", "reverse": true, "domain": [-180, 180]}, "legend": {"values": [-100, 0, 100], "encode": {"title": {"update": {"angle": {"value": 270}}}}}}
      }
    },
    {
      "data": {"name": "p2"},
      "title": "Phase Map Ch3 * Ch2 2026-08-25 23:01:28 LT",
      "width": 632,
      "height": 90.5,
      "mark": {"type": "rect", "width": 4.2, "height": 2.7, "clip": true},
      "encoding": {
        "x": {"field": "t", "type": "quantitative", "title": "Time", "scale": {"domain": [0, 1440], "nice": false, "zero": false}, "axis": {"values": [0, 180, 360, 540, 720, 900, 1080, 1260, 1440]}},
        "y": {"field": "r", "type": "quantitative", "title": "Range [km]", "scale": {"domain": [-2.5, 103.5], "nice": false, "zero": false}, "axis": {"values": [0, 50, 100]}},
        "color": {"field": "v", "type": "quantitative", "title": "Degrees", "scale": {"scheme": "redblue", "reverse": true, "domain": [-180, 180]}, "legend": {"values": [-100, 0, 100], "encode": {"title": {"update": {"angle": {"value": 270}}}}}}
      }
    },
    {
      "data": {"name": "p3"},
      "title": "Phase Map Ch5 * Ch4 2026-08-25 23:01:28 LT",
      "width": 632,
      "height": 90.5,
      "mark": {"type": "rect", "width": 4.2, "height": 2.7, "clip": true},
      "encoding": {
        "x": {"field": "t", "type": "quantitative", "title": "Time", "scale": {"domain": [0, 1440], "nice": false, "zero": false}, "axis": {"values": [0, 180, 360, 540, 720, 900, 1080, 1260, 1440]}},
        "y": {"field": "r", "type": "quantitative", "title": "Range [km]", "scale": {"domain": [-2.5, 103.5], "nice": false, "zero": false}, "axis": {"values": [0, 50, 100]}},
        "color": {"field": "v", "type": "quantitative", "title": "Degrees", "scale": {"scheme": "redblue", "reverse": true, "domain": [-180, 180]}, "legend": {"values": [-100, 0, 100], "encode": {"title": {"update": {"angle": {"value": 270}}}}}}
      }
    },
    {
      "data": {"name": "p4"},
      "title": "Phase Map Ch7 * Ch6 2026-08-25 23:01:28 LT",
      "width": 632,
      "height": 90.5,
      "mark": {"type": "rect", "width": 4.2, "height": 2.7, "clip": true},
      "encoding": {
        "x": {"field": "t", "type": "quantitative", "title": "Time", "scale": {"domain": [0, 1440], "nice": false, "zero": false}, "axis": {"values": [0, 180, 360, 540, 720, 900, 1080, 1260, 1440]}},
        "y": {"field": "r", "type": "quantitative", "title": "Range [km]", "scale": {"domain": [-2.5, 103.5], "nice": false, "zero": false}, "axis": {"values": [0, 50, 100]}},
        "color": {"field": "v", "type": "quantitative", "title": "Degrees", "scale": {"scheme": "redblue", "reverse": true, "domain": [-180, 180]}, "legend": {"values": [-100, 0, 100], "encode": {"title": {"update": {"angle": {"value": 270}}}}}}
      }
    }
  ],
  "spacing": 55,
  "bounds": "flush",
  "resolve": {
    "scale": {"color": "independent", "x": "independent", "y": "independent"},
    "legend": {"color": "independent"},
    "axis": {"x": "independent", "y": "independent"}
  },
  "config": {
    "font": "DejaVu Sans",
    "view": {"stroke": "black", "strokeWidth": 1},
    "title": {"fontSize": 10.5, "fontWeight": "normal", "color": "black", "anchor": "middle", "offset": 6},
    "axis": {
      "grid": false,
      "domainColor": "black",
      "tickColor": "black",
      "labelColor": "black",
      "titleColor": "black",
      "labelFontSize": 10.5,
      "titleFontSize": 13.3,
      "titleFontWeight": "normal",
      "tickSize": 4.5,
      "labelPadding": 3
    },
    "axisX": {
      "labelExpr": "(floor(datum.value/60)%24<10?'0':'')+(floor(datum.value/60)%24)+':00'",
      "labelFlush": false,
      "titlePadding": 3
    },
    "axisY": {
      "titlePadding": 6
    },
    "legend": {
      "orient": "right",
      "offset": 14,
      "padding": 0,
      "direction": "vertical",
      "gradientLength": 90.5,
      "gradientThickness": 10,
      "gradientStrokeColor": "black",
      "gradientStrokeWidth": 0.8,
      "labelFontSize": 10.5,
      "labelColor": "black",
      "labelOffset": 6,
      "titleFontSize": 10.5,
      "titleFontWeight": "normal",
      "titleColor": "black",
      "titleOrient": "right",
      "titleAnchor": "middle",
      "titleBaseline": "bottom",
      "titlePadding": 24
    }
  }
}
